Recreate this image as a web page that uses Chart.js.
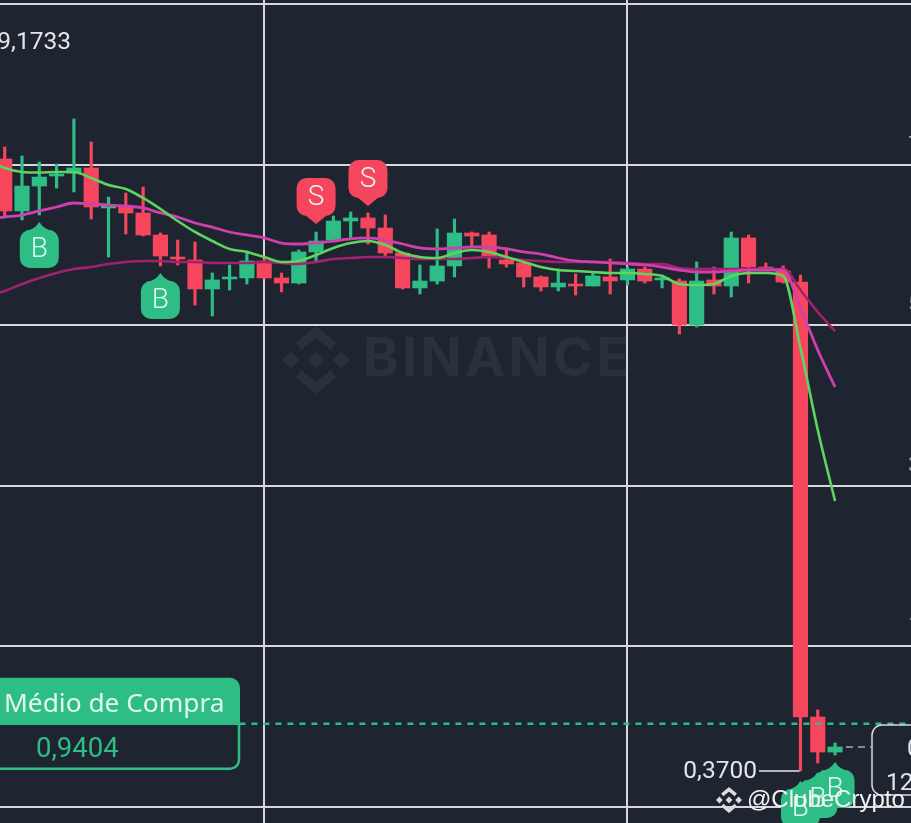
<!DOCTYPE html>
<html lang="pt">
<head>
<meta charset="utf-8">
<title>Candles</title>
<script src="https://cdn.jsdelivr.net/npm/chart.js@4"></script>
<style>
  html, body { margin: 0; padding: 0; background: #1e2530; overflow: hidden; }
  canvas { display: block; }
</style>
</head>
<body>
<canvas id="candles" width="911" height="823"></canvas>
<script>
// first row of each series is the candle just left of the visible window
const opens = [7.85, 7.761, 7.133, 7.434, 7.555, 7.591, 7.652, 7.169, 7.181, 7.109, 6.843, 6.577, 6.541, 6.191, 6.312, 6.324, 6.529, 6.324, 6.263, 6.638, 6.782, 7.012, 7.048, 6.927, 6.625, 6.203, 6.287, 6.469, 6.867, 6.843, 6.541, 6.505, 6.336, 6.215, 6.251, 6.227, 6.336, 6.300, 6.432, 6.300, 6.287, 5.756, 6.300, 6.227, 6.807, 6.456, 6.408, 6.275, 1.022, 0.599];
const highs = [8.02, 7.905, 7.797, 7.724, 7.700, 8.244, 7.966, 7.301, 7.350, 7.422, 6.867, 6.782, 6.758, 6.384, 6.481, 6.650, 6.553, 6.384, 6.662, 6.879, 7.072, 7.121, 7.109, 7.084, 6.638, 6.481, 6.915, 7.036, 6.879, 6.879, 6.686, 6.505, 6.348, 6.432, 6.372, 6.396, 6.553, 6.456, 6.456, 6.360, 6.312, 6.517, 6.456, 6.879, 6.843, 6.505, 6.469, 6.360, 1.107, 0.708];
const lows = [7.55, 7.060, 7.024, 7.084, 7.410, 7.362, 7.036, 6.577, 6.855, 6.831, 6.469, 6.481, 5.997, 5.865, 6.179, 6.251, 6.312, 6.155, 6.251, 6.529, 6.770, 6.807, 6.734, 6.589, 6.191, 6.130, 6.251, 6.336, 6.698, 6.444, 6.456, 6.215, 6.167, 6.167, 6.118, 6.227, 6.130, 6.239, 6.263, 6.203, 5.647, 5.732, 6.130, 6.094, 6.263, 6.420, 6.263, 0.37, 0.467, 0.563];
const closes = [7.761, 7.133, 7.434, 7.543, 7.579, 7.652, 7.181, 7.193, 7.109, 6.843, 6.589, 6.553, 6.191, 6.300, 6.336, 6.529, 6.324, 6.263, 6.638, 6.770, 7.012, 7.048, 6.927, 6.625, 6.203, 6.287, 6.469, 6.867, 6.831, 6.577, 6.493, 6.336, 6.215, 6.263, 6.227, 6.348, 6.287, 6.432, 6.287, 6.324, 5.756, 6.287, 6.227, 6.807, 6.456, 6.420, 6.275, 1.022, 0.599, 0.660];

const maFast = [7.748, 7.652, 7.604, 7.597, 7.604, 7.604, 7.531, 7.447, 7.398, 7.290, 7.157, 7.012, 6.879, 6.770, 6.674, 6.638, 6.577, 6.517, 6.529, 6.601, 6.686, 6.746, 6.770, 6.722, 6.625, 6.577, 6.565, 6.625, 6.662, 6.638, 6.577, 6.517, 6.456, 6.420, 6.408, 6.396, 6.384, 6.384, 6.372, 6.348, 6.251, 6.239, 6.251, 6.348, 6.384, 6.384, 6.348, 5.478, 4.488, 3.631];
const maMid = [7.036, 7.060, 7.084, 7.133, 7.181, 7.229, 7.217, 7.205, 7.193, 7.169, 7.109, 7.060, 6.988, 6.939, 6.879, 6.843, 6.807, 6.746, 6.734, 6.746, 6.770, 6.795, 6.807, 6.782, 6.734, 6.686, 6.674, 6.686, 6.698, 6.698, 6.674, 6.638, 6.613, 6.565, 6.529, 6.517, 6.505, 6.493, 6.481, 6.456, 6.420, 6.396, 6.396, 6.408, 6.420, 6.420, 6.420, 5.961, 5.454, 5.007];
const maSlow = [6.106, 6.167, 6.251, 6.324, 6.384, 6.432, 6.456, 6.493, 6.517, 6.529, 6.529, 6.517, 6.517, 6.505, 6.505, 6.505, 6.517, 6.505, 6.493, 6.517, 6.553, 6.565, 6.577, 6.577, 6.565, 6.553, 6.553, 6.553, 6.565, 6.577, 6.565, 6.541, 6.529, 6.517, 6.517, 6.517, 6.517, 6.505, 6.493, 6.493, 6.444, 6.432, 6.432, 6.432, 6.432, 6.432, 6.432, 6.179, 5.913, 5.683];

const gridPrices = [9.632, 7.688, 5.756, 3.812, 1.880, -0.065];
const gridCandles = [16, 37];
const priceLabels = ['7,6880', '5,7560', '3,8120', '1,8800'];

const signalCandles = [3, 10, 47, 48, 49, 19, 22];
const signalPrices = [7.000, 6.384, 0.249, 0.358, 0.479, 6.975, 7.193];
const signalSides = ['B', 'B', 'B', 'B', 'B', 'S', 'S'];

const highLabel = '9,1733';
const highPrice = 9.1733;
const lowLabel = '0,3700';
const lowPrice = 0.37;
const avgTitle = 'Médio de Compra';
const avgLabel = '0,9404';
const avgPrice = 0.9404;
const lastPrice = 0.660;
const lastLabel = '0,6600';
const lastTime = '12:00';

const UP = '#2ebd85';
const DOWN = '#f6465d';
const BG = '#1e2530';
const GRID = '#d6d7db';

const candleColors = opens.map((o, i) => (closes[i] >= o ? UP : DOWN));
const points = (values) => values.map((v, i) => ({ x: i, y: v }));

function binanceLogo(ctx, cx, cy, r, color) {
  const diamond = (x, y, h) => {
    ctx.beginPath();
    ctx.moveTo(x, y - h);
    ctx.lineTo(x + h, y);
    ctx.lineTo(x, y + h);
    ctx.lineTo(x - h, y);
    ctx.closePath();
    ctx.fill();
  };
  ctx.save();
  ctx.fillStyle = color;
  ctx.strokeStyle = color;
  diamond(cx, cy, r * 0.26);
  diamond(cx - r * 0.74, cy, r * 0.26);
  diamond(cx + r * 0.74, cy, r * 0.26);
  ctx.lineWidth = r * 0.27;
  ctx.lineJoin = 'miter';
  [-1, 1].forEach((s) => {
    ctx.beginPath();
    ctx.moveTo(cx - r * 0.52, cy + s * r * 0.4);
    ctx.lineTo(cx, cy + s * r * 0.82);
    ctx.lineTo(cx + r * 0.52, cy + s * r * 0.4);
    ctx.stroke();
  });
  ctx.restore();
}

const BUBBLE_W = 39;
const BUBBLE_H = 38;

function bubbleTop(tipY, side) {
  return side === 'B' ? tipY + 8 : tipY - 8 - BUBBLE_H;
}

function signalBubble(ctx, x, tipY, side) {
  const buy = side === 'B';
  const top = bubbleTop(tipY, side);
  ctx.save();
  ctx.fillStyle = buy ? UP : DOWN;
  ctx.beginPath();
  ctx.roundRect(x - BUBBLE_W / 2, top, BUBBLE_W, BUBBLE_H, 10);
  ctx.fill();
  ctx.beginPath();
  if (buy) {
    ctx.moveTo(x - 14, top + 1);
    ctx.quadraticCurveTo(x - 5, top, x, tipY);
    ctx.quadraticCurveTo(x + 5, top, x + 14, top + 1);
  } else {
    ctx.moveTo(x - 11, top + BUBBLE_H - 1);
    ctx.lineTo(x, tipY);
    ctx.lineTo(x + 11, top + BUBBLE_H - 1);
  }
  ctx.closePath();
  ctx.fill();
  ctx.restore();
}

const backdrop = {
  id: 'backdrop',
  beforeDraw(chart) {
    const { ctx, width, height } = chart;
    ctx.save();
    ctx.fillStyle = BG;
    ctx.fillRect(0, 0, width, height);
    binanceLogo(ctx, 316, 360, 34, '#2b313c');
    ctx.fillStyle = '#2b313c';
    ctx.font = '700 54px Inter';
    ctx.letterSpacing = '3.3px';
    ctx.textAlign = 'left';
    ctx.textBaseline = 'middle';
    ctx.fillText('BINANCE', 363, 360);
    ctx.restore();
  },
};

const overlays = {
  id: 'overlays',
  afterDatasetsDraw(chart) {
    const { ctx } = chart;
    const xs = chart.scales.x;
    const ys = chart.scales.y;
    ctx.save();

    signalCandles.forEach((c, i) => {
      signalBubble(ctx, xs.getPixelForValue(c), ys.getPixelForValue(signalPrices[i]), signalSides[i]);
    });
    // letters go on top, the three last bubbles overlap
    ctx.fillStyle = '#e2f8ef';
    ctx.font = '300 28px Roboto';
    ctx.textAlign = 'center';
    ctx.textBaseline = 'middle';
    signalCandles.forEach((c, i) => {
      const tipY = ys.getPixelForValue(signalPrices[i]);
      ctx.fillText(signalSides[i], xs.getPixelForValue(c), bubbleTop(tipY, signalSides[i]) + BUBBLE_H / 2 + 1);
    });

    // average buy price box
    const avgY = ys.getPixelForValue(avgPrice);
    ctx.fillStyle = BG;
    ctx.beginPath();
    ctx.roundRect(-20, avgY, 259, 45, [0, 0, 9, 0]);
    ctx.fill();
    ctx.strokeStyle = UP;
    ctx.lineWidth = 2.5;
    ctx.stroke();
    ctx.fillStyle = UP;
    ctx.beginPath();
    ctx.roundRect(-20, avgY - 46, 260, 47, [0, 10, 0, 0]);
    ctx.fill();
    ctx.fillStyle = '#e2f8ef';
    ctx.font = '26.3px "Noto Sans"';
    ctx.textAlign = 'left';
    ctx.textBaseline = 'middle';
    ctx.fillText(avgTitle, 4, avgY - 19);
    ctx.fillStyle = UP;
    ctx.font = '27.5px Roboto';
    ctx.fillText(avgLabel, 36, avgY + 26);

    // highest and lowest price marks
    ctx.fillStyle = '#e4e5e8';
    ctx.font = '24.5px Roboto';
    ctx.textAlign = 'right';
    ctx.fillText(highLabel, 71, ys.getPixelForValue(highPrice) + 1);
    const lowY = ys.getPixelForValue(lowPrice);
    ctx.fillText(lowLabel, 757, lowY + 1);
    ctx.strokeStyle = '#e4e5e8';
    ctx.lineWidth = 1.5;
    ctx.beginPath();
    ctx.moveTo(759, lowY);
    ctx.lineTo(xs.getPixelForValue(47) - 1, lowY);
    ctx.stroke();

    // last price tag at the right edge
    const lastY = ys.getPixelForValue(lastPrice);
    ctx.strokeStyle = '#a9abb1';
    ctx.lineWidth = 1.5;
    ctx.setLineDash([7, 5]);
    ctx.beginPath();
    ctx.moveTo(846, lastY);
    ctx.lineTo(871, lastY);
    ctx.stroke();
    ctx.setLineDash([]);
    ctx.strokeStyle = '#d6d7db';
    ctx.lineWidth = 1.5;
    ctx.beginPath();
    ctx.roundRect(872, 725, 60, 70, 10);
    ctx.stroke();
    ctx.fillStyle = '#e4e5e8';
    ctx.font = '24.5px Roboto';
    ctx.textAlign = 'left';
    ctx.fillText(lastLabel, 907, 750);
    ctx.fillText(lastTime, 886, 784);

    // axis labels, cut off by the screenshot
    ctx.fillStyle = '#9a9ca3';
    ctx.font = '22px Roboto';
    priceLabels.forEach((t, i) => {
      ctx.fillText(t, 908, ys.getPixelForValue(gridPrices[i + 1]) - 19);
    });

    binanceLogo(ctx, 729, 800, 13, '#dcdcdc');
    ctx.fillStyle = '#f2f2f2';
    ctx.font = '24px "Liberation Sans"';
    ctx.fillText('@ClubeCrypto', 747, 800);
    ctx.restore();
  },
};

new Chart(document.getElementById('candles'), {
  data: {
    datasets: [
      {
        type: 'bar',
        label: 'Pavio',
        data: highs.map((h, i) => ({ x: i, y: [lows[i], h] })),
        backgroundColor: candleColors,
        barThickness: 2.5,
        grouped: false,
        order: 6,
      },
      {
        type: 'bar',
        label: 'Corpo',
        data: opens.map((o, i) => ({ x: i, y: [o, closes[i]] })),
        backgroundColor: candleColors,
        barThickness: 14.5,
        grouped: false,
        order: 5,
      },
      {
        type: 'line',
        label: 'MA lenta',
        data: points(maSlow),
        borderColor: '#a3216f',
        borderWidth: 2.6,
        cubicInterpolationMode: 'monotone',
        pointRadius: 0,
        order: 4,
      },
      {
        type: 'line',
        label: 'MA média',
        data: points(maMid),
        borderColor: '#d03fae',
        borderWidth: 2.8,
        cubicInterpolationMode: 'monotone',
        pointRadius: 0,
        order: 3,
      },
      {
        type: 'line',
        label: 'MA rápida',
        data: points(maFast),
        borderColor: '#5fd45f',
        borderWidth: 2.6,
        cubicInterpolationMode: 'monotone',
        pointRadius: 0,
        order: 2,
      },
      {
        type: 'line',
        label: 'Preço médio',
        data: [{ x: 0, y: avgPrice }, { x: 54, y: avgPrice }],
        borderColor: UP,
        borderWidth: 2.5,
        borderDash: [6, 6],
        pointRadius: 0,
        order: 1,
      },
    ],
  },
  options: {
    responsive: false,
    animation: false,
    layout: { padding: 0 },
    plugins: {
      legend: { display: false },
      tooltip: { enabled: false },
    },
    scales: {
      x: {
        type: 'linear',
        offset: false,
        min: 0.728,
        max: 53.39,
        afterBuildTicks: (axis) => { axis.ticks = gridCandles.map((v) => ({ value: v })); },
        ticks: { display: false },
        border: { display: false },
        grid: { color: GRID, lineWidth: 2, drawTicks: false, offset: false },
      },
      y: {
        min: -0.2579,
        max: 9.6806,
        afterBuildTicks: (axis) => { axis.ticks = gridPrices.map((v) => ({ value: v })); },
        ticks: { display: false },
        border: { display: false },
        grid: { color: GRID, lineWidth: 2, drawTicks: false },
      },
    },
  },
  plugins: [backdrop, overlays],
});
</script>
</body>
</html>
